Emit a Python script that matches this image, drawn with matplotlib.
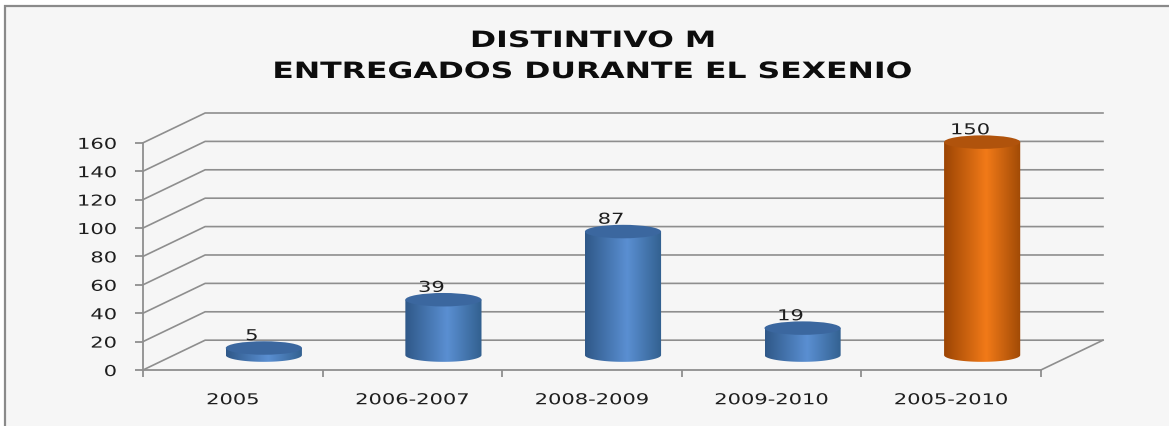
import numpy as np
import matplotlib
matplotlib.use("Agg")
import matplotlib.pyplot as plt
from matplotlib.patches import Rectangle, Ellipse, PathPatch
from matplotlib.path import Path
from matplotlib.colors import LinearSegmentedColormap
from matplotlib.patheffects import AbstractPathEffect
from matplotlib.transforms import Affine2D

# data
periodos = ["2005", "2006-2007", "2008-2009", "2009-2010", "2005-2010"]
valores = [5, 39, 87, 19, 150]
y_ticks = [0, 20, 40, 60, 80, 100, 120, 140, 160]

# colours per bar: (left edge, middle, right edge, top)
azul = ("#2f5888", "#5a8fd2", "#32608f", "#3b679f")
naranja = ("#9c4504", "#f27a18", "#a04a06", "#b0530c")
estilos = [azul, azul, azul, azul, naranja]

GRID = "#8e8e8e"
BG = "#f6f6f6"
TXT = "#1e1e1e"

# pseudo-3d depth, in data units
DX = 0.346
DY = 21.0
BAR_W = 0.424
ELL_H = 9.5
SX = 1.4   # the source picture is stretched sideways


class Ancho(AbstractPathEffect):
    """stretch text horizontally around an anchor (left/center/right)"""
    def __init__(self, sx, anchor="center"):
        super().__init__()
        self.sx = sx
        self.anchor = anchor

    def draw_path(self, renderer, gc, tpath, affine, rgbFace=None):
        bb = tpath.get_extents(affine)
        c = {"left": bb.x0, "right": bb.x1}.get(self.anchor, (bb.x0 + bb.x1) / 2)
        t = affine + Affine2D().translate(-c, 0).scale(self.sx, 1).translate(c, 0)
        renderer.draw_path(gc, tpath, t, rgbFace)


fig = plt.figure(figsize=(11.69, 4.26), dpi=100)
fig.patch.set_facecolor("white")
fig.patches.append(Rectangle((5 / 1169, -0.05), 1.0, 1 - 6 / 426 + 0.05,
                             transform=fig.transFigure, facecolor=BG,
                             edgecolor="#8a8a8a", linewidth=1.6, zorder=-5))

for txt, ypx in [("DISTINTIVO M", 47), ("ENTREGADOS DURANTE EL SEXENIO", 78)]:
    fig.text(593.5 / 1169, 1 - ypx / 426, txt, ha="center", va="baseline",
             fontsize=16.2, fontweight="bold", color="#0d0d0d",
             path_effects=[Ancho(SX)])

ax = fig.add_axes([143 / 1169, 56 / 426, 960 / 1169, 257 / 426])
ax.patch.set_visible(False)
ax.set_autoscale_on(False)
ax.set_xlim(-0.5, len(periodos) - 0.5 + DX)
ax.set_ylim(0, y_ticks[-1] + DY)

# walls: diagonal + back gridlines
x0, x1 = -0.5, len(periodos) - 0.5
for yv in y_ticks:
    ax.plot([x0, x0 + DX, x1 + DX], [yv, yv + DY, yv + DY], color=GRID,
            lw=1.2, zorder=1, clip_on=False)
ax.plot([x1, x1 + DX], [0, DY], color=GRID, lw=1.2, zorder=1, clip_on=False)

# cylinders
grad = np.linspace(0, 1, 256).reshape(1, -1)
for i, (v, st) in enumerate(zip(valores, estilos)):
    cx = i + DX / 2
    base = DY / 2
    top = base + v
    left, right = cx - BAR_W / 2, cx + BAR_W / 2
    cmap = LinearSegmentedColormap.from_list(
        "c%d" % i, [(0, st[0]), (0.55, st[1]), (1, st[2])])
    t = np.linspace(0, -np.pi, 60)
    ex = cx + BAR_W / 2 * np.cos(t)
    ey = base + ELL_H / 2 * np.sin(t)
    verts = [(left, top), (right, top)] + list(zip(ex, ey)) + [(left, top)]
    clip = PathPatch(Path(verts), transform=ax.transData)
    im = ax.imshow(grad, cmap=cmap, aspect="auto", zorder=3,
                   extent=(left, right, base - ELL_H / 2, top),
                   interpolation="bicubic")
    im.set_clip_path(clip)
    ax.add_patch(Ellipse((cx, top), BAR_W, ELL_H, facecolor=st[3],
                         edgecolor="none", zorder=4))
    ax.text(cx - 0.067, top + ELL_H / 2 + 0.8, str(v), ha="center",
            va="baseline", fontsize=10.8, color=TXT, zorder=5,
            path_effects=[Ancho(SX)])

# axes / spines
for s in ("top", "right"):
    ax.spines[s].set_visible(False)
ax.spines["left"].set_position(("data", x0))
ax.spines["left"].set_bounds(0, y_ticks[-1])
ax.spines["bottom"].set_position(("data", 0))
ax.spines["bottom"].set_bounds(x0, x1)
for s in ("left", "bottom"):
    ax.spines[s].set_color(GRID)
    ax.spines[s].set_linewidth(1.3)
    ax.spines[s].set_zorder(2)

ax.set_yticks(y_ticks)
ax.set_yticklabels([str(y) for y in y_ticks])
ax.tick_params(axis="y", length=6, width=1.3, color=GRID, pad=13,
               labelsize=10.8, labelcolor=TXT)
ax.set_xticks(np.arange(x0, x1 + 0.01, 1.0))
ax.set_xticklabels([])
ax.tick_params(axis="x", which="major", length=5, width=1.3, color=GRID)
ax.set_xticks(range(len(periodos)), minor=True)
ax.set_xticklabels(periodos, minor=True)
ax.tick_params(axis="x", which="minor", length=0, pad=16,
               labelsize=10.8, labelcolor=TXT)

for lbl in ax.get_yticklabels():
    lbl.set_path_effects([Ancho(SX, "right")])
for lbl in ax.get_xticklabels(minor=True):
    lbl.set_path_effects([Ancho(SX)])

fig.savefig("out.png", dpi=100, facecolor=fig.get_facecolor())
